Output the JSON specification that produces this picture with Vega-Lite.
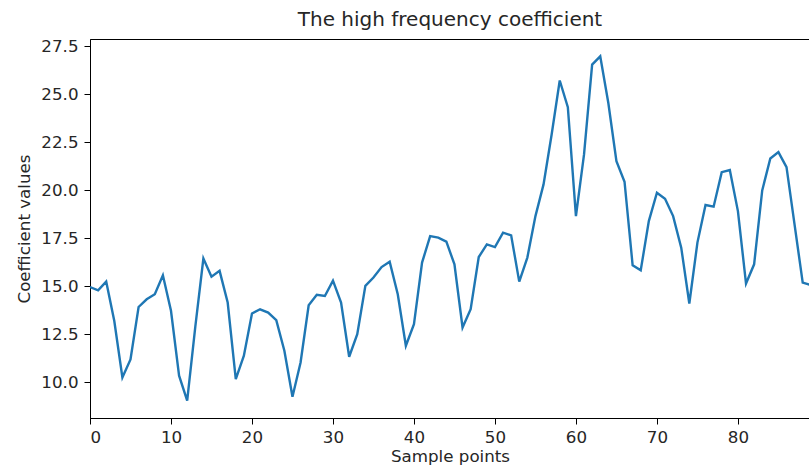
{
  "$schema": "https://vega.github.io/schema/vega-lite/v6.json",
  "width": 720,
  "height": 379,
  "autosize": {"type": "none"},
  "padding": {"left": 90, "top": 39, "right": 0, "bottom": 53},
  "background": "white",
  "config": {
    "font": "DejaVu Sans",
    "view": {"stroke": "#000000", "strokeWidth": 1},
    "axis": {
      "grid": false,
      "domainColor": "#000000",
      "tickColor": "#000000",
      "tickSize": 6,
      "labelColor": "#262626",
      "labelFontSize": 16.7,
      "titleFontSize": 16.7,
      "titleFontWeight": "normal",
      "titleColor": "#262626",
      "labelFont": "DejaVu Sans",
      "titleFont": "DejaVu Sans"
    }
  },
  "title": {
    "text": "The high frequency coefficient",
    "fontSize": 20,
    "fontWeight": "normal",
    "font": "DejaVu Sans",
    "color": "#262626",
    "anchor": "middle",
    "offset": 8
  },
  "data": {
    "values": [
      {"x": 0, "y": 14.97}, {"x": 1, "y": 14.8}, {"x": 2, "y": 15.25}, {"x": 3, "y": 13.2},
      {"x": 4, "y": 10.26}, {"x": 5, "y": 11.2}, {"x": 6, "y": 13.93}, {"x": 7, "y": 14.33},
      {"x": 8, "y": 14.59}, {"x": 9, "y": 15.58}, {"x": 10, "y": 13.73}, {"x": 11, "y": 10.35},
      {"x": 12, "y": 9.05}, {"x": 13, "y": 12.9}, {"x": 14, "y": 16.45}, {"x": 15, "y": 15.51},
      {"x": 16, "y": 15.81}, {"x": 17, "y": 14.16}, {"x": 18, "y": 10.17}, {"x": 19, "y": 11.39},
      {"x": 20, "y": 13.59}, {"x": 21, "y": 13.81}, {"x": 22, "y": 13.64}, {"x": 23, "y": 13.24},
      {"x": 24, "y": 11.65}, {"x": 25, "y": 9.26}, {"x": 26, "y": 11.04}, {"x": 27, "y": 14.02},
      {"x": 28, "y": 14.56}, {"x": 29, "y": 14.5}, {"x": 30, "y": 15.3}, {"x": 31, "y": 14.16},
      {"x": 32, "y": 11.34}, {"x": 33, "y": 12.51}, {"x": 34, "y": 15.03}, {"x": 35, "y": 15.46},
      {"x": 36, "y": 16.01}, {"x": 37, "y": 16.29}, {"x": 38, "y": 14.59}, {"x": 39, "y": 11.91},
      {"x": 40, "y": 13.03}, {"x": 41, "y": 16.24}, {"x": 42, "y": 17.62}, {"x": 43, "y": 17.54},
      {"x": 44, "y": 17.33}, {"x": 45, "y": 16.15}, {"x": 46, "y": 12.86}, {"x": 47, "y": 13.81},
      {"x": 48, "y": 16.53}, {"x": 49, "y": 17.19}, {"x": 50, "y": 17.05}, {"x": 51, "y": 17.8},
      {"x": 52, "y": 17.66}, {"x": 53, "y": 15.25}, {"x": 54, "y": 16.5}, {"x": 55, "y": 18.66},
      {"x": 56, "y": 20.31}, {"x": 57, "y": 22.91}, {"x": 58, "y": 25.72}, {"x": 59, "y": 24.33},
      {"x": 60, "y": 18.66}, {"x": 61, "y": 21.87}, {"x": 62, "y": 26.55}, {"x": 63, "y": 26.98},
      {"x": 64, "y": 24.55}, {"x": 65, "y": 21.52}, {"x": 66, "y": 20.45}, {"x": 67, "y": 16.1},
      {"x": 68, "y": 15.84}, {"x": 69, "y": 18.4}, {"x": 70, "y": 19.88}, {"x": 71, "y": 19.56},
      {"x": 72, "y": 18.66}, {"x": 73, "y": 17.02}, {"x": 74, "y": 14.11}, {"x": 75, "y": 17.28},
      {"x": 76, "y": 19.24}, {"x": 77, "y": 19.15}, {"x": 78, "y": 20.95}, {"x": 79, "y": 21.06},
      {"x": 80, "y": 18.92}, {"x": 81, "y": 15.15}, {"x": 82, "y": 16.15}, {"x": 83, "y": 20.0},
      {"x": 84, "y": 21.66}, {"x": 85, "y": 21.99}, {"x": 86, "y": 21.21}, {"x": 87, "y": 18.2},
      {"x": 88, "y": 15.2}, {"x": 89, "y": 15.07}
    ]
  },
  "mark": {"type": "line", "color": "#1f77b4", "strokeWidth": 2.4, "clip": true},
  "encoding": {
    "x": {
      "field": "x",
      "type": "quantitative",
      "scale": {"domain": [0, 88.9], "nice": false, "zero": false},
      "axis": {"values": [0, 10, 20, 30, 40, 50, 60, 70, 80], "title": "Sample points", "labelPadding": 5, "titlePadding": 3}
    },
    "y": {
      "field": "y",
      "type": "quantitative",
      "scale": {"domain": [8.15, 27.88], "nice": false, "zero": false},
      "axis": {
        "values": [10, 12.5, 15, 17.5, 20, 22.5, 25, 27.5],
        "format": ".1f",
        "title": "Coefficient values",
        "labelPadding": 6,
        "titlePadding": 7
      }
    }
  }
}
